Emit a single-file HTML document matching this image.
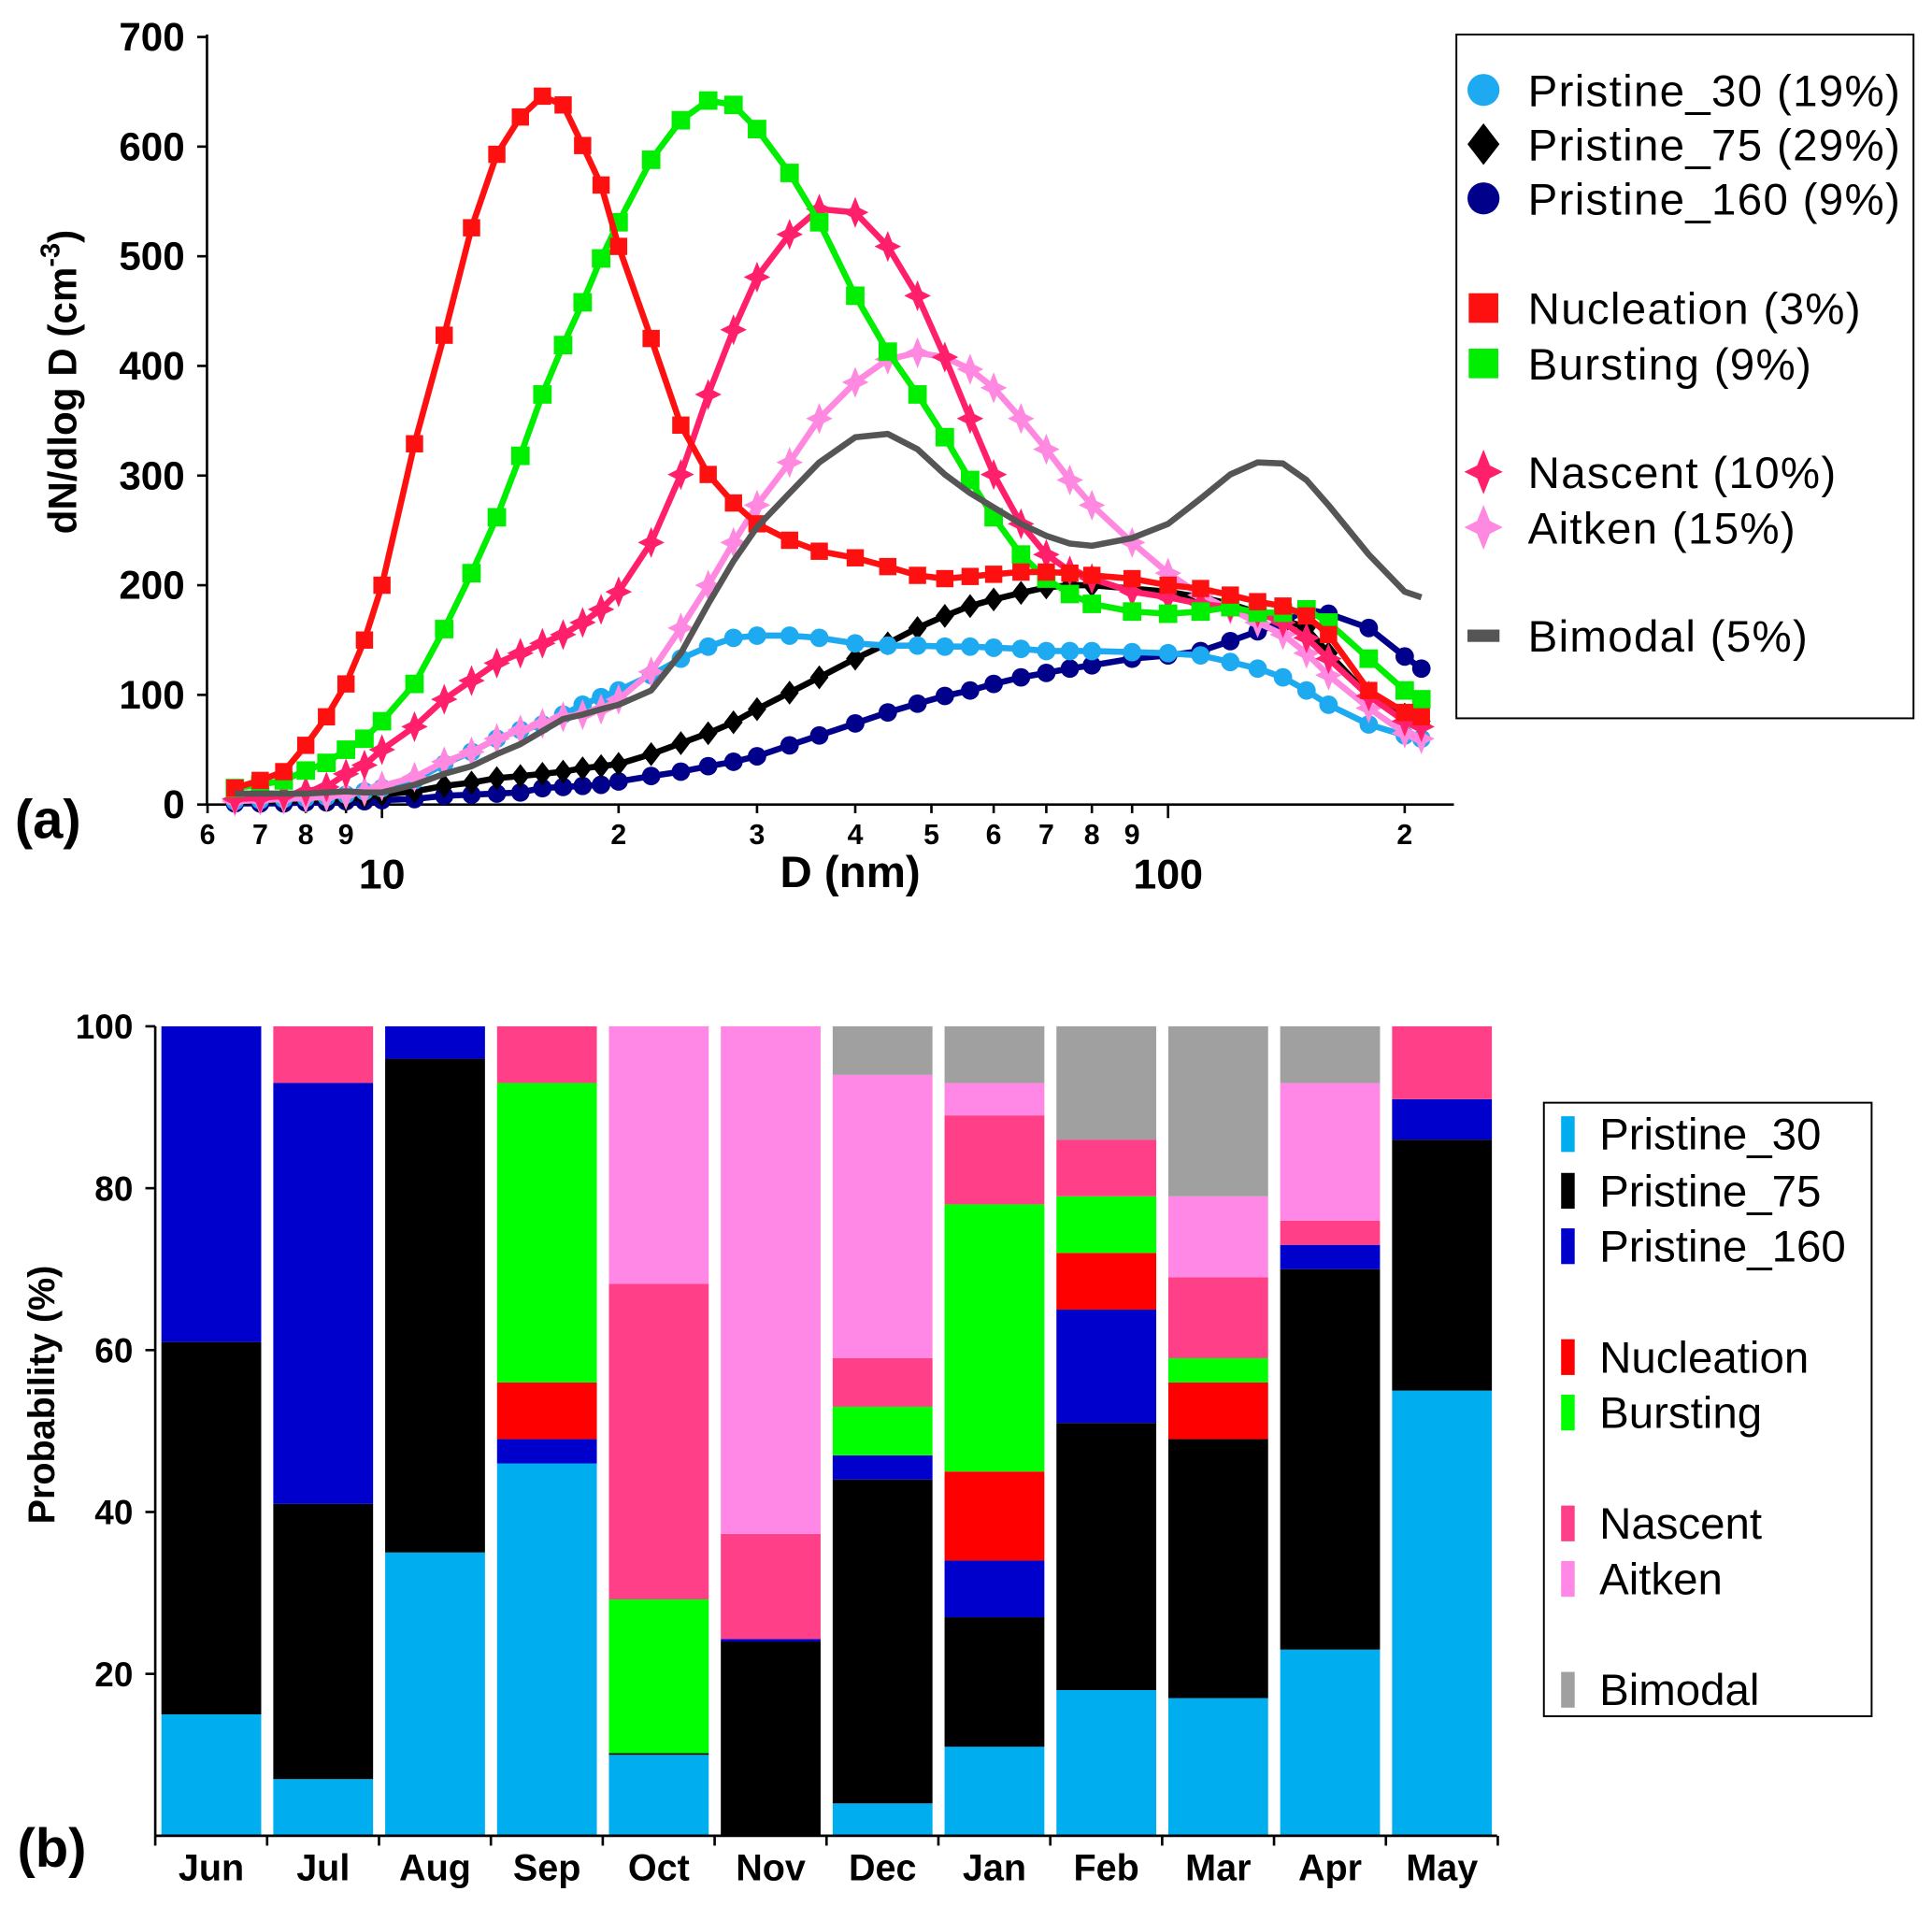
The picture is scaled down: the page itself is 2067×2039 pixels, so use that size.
<!DOCTYPE html>
<html><head><meta charset="utf-8"><style>
html,body{margin:0;padding:0;background:#fff}
svg{display:block;font-family:"Liberation Sans",Arial,sans-serif}
</style></head><body>
<svg id="fig" width="2067" height="2039" viewBox="0 0 1568 1547" preserveAspectRatio="none">
<rect width="1568" height="1547" fill="#fff"/>
<g id="topPanel"></g>
<g id="botPanel"></g>
</svg>
<script>
// ---------- Panel (a) data ----------
const diam = [6.5,7,7.5,8,8.5,9,9.5,10,11,12,13,14,15,16,17,18,19,20,22,24,26,28,30,33,36,40,44,48,52,56,60,65,70,75,80,90,100,110,120,130,140,150,160,180,200,210];
const nucleation = [15,22,30,54,80,110,150,200,329,428,526,593,627,646,638,601,565,509,425,346,301,275,256,241,231,225,217,209,206,208,210,212,212,211,209,206,200,197,191,185,181,172,155,104,84,80];
const bursting = [15,18,22,31,38,50,60,76,110,160,211,262,318,374,419,458,498,531,588,624,642,638,616,576,531,464,413,374,335,296,262,228,206,192,183,176,174,176,180,175,175,178,166,133,104,96];
const nascent = [5,6,8,12,16,28,36,50,71,96,113,129,138,147,155,166,178,194,239,301,374,433,481,520,543,540,509,464,408,352,301,256,228,213,206,194,189,183,180,175,166,152,133,99,76,71];
const aitken = [3,4,5,6,7,9,12,17,25,39,48,60,68,74,80,82,87,96,121,161,200,239,273,312,352,385,406,412,408,397,380,352,324,296,273,239,211,191,178,166,155,138,118,88,65,60];
const bimodal = [10,10,10,10,11,12,11,11,18,28,35,46,55,67,78,82,87,91,104,138,183,222,253,284,312,335,338,324,301,284,271,256,245,238,236,243,256,279,301,312,311,296,273,228,194,189];
const pristine30 = [3,4,5,6,7,9,12,15,22,37,48,60,68,73,82,91,98,104,118,133,144,152,154,154,152,147,145,145,144,144,143,142,140,140,140,139,138,136,130,124,116,104,91,73,63,60];
const pristine75 = [2,3,3,4,4,5,7,9,12,17,20,24,26,28,30,33,35,37,46,56,65,75,87,102,116,133,147,161,172,181,187,193,198,200,200,197,194,189,183,175,169,161,138,99,82,76];
const pristine160 = [1,1,1,2,2,3,3,4,5,8,9,10,11,15,16,17,18,21,26,30,35,39,44,54,63,74,84,92,99,104,110,116,120,124,127,133,136,140,149,158,166,178,174,161,135,124];
const yTicksA = [0,100,200,300,400,500,600,700];

// ---------- Panel (b) data ----------
const months = ["Jun","Jul","Aug","Sep","Oct","Nov","Dec","Jan","Feb","Mar","Apr","May"];
const bP30  = [15,7,35,46,10,0,4,11,18,17,23,55];
const bP75  = [46,34,61,0,0.2,24,40,16,33,32,47,31];
const bP160 = [39,52,4,3,0,0.3,3,7,14,0,3,5];
const bNuc  = [0,0,0,7,0,0,0,11,7,7,0,0];
const bBur  = [0,0,0,37,19,0,6,33,7,3,0,0];
const bNas  = [0,7,0,7,39,13,6,11,7,10,3,9];
const bAit  = [0,0,0,0,31.8,62.7,35,4,0,10,17,0];
const bBim  = [0,0,0,0,0,0,6,7,14,21,7,0];
const yTicksB = [20,40,60,80,100];

const NS="http://www.w3.org/2000/svg";
function mk(parent,tag,attrs,text){const e=document.createElementNS(NS,tag);for(const k in attrs)e.setAttribute(k,attrs[k]);if(text!==undefined)e.textContent=text;parent.appendChild(e);return e;}

// ---------- Panel (a) ----------
const gTop=document.getElementById('topPanel');
const xA=d=>310+638*Math.log10(d/10);
const yA=v=>653-v*0.89;
let ax=mk(gTop,'line',{x1:168,y1:653,x2:1180,y2:653,stroke:'#000','stroke-width':2});


ax=mk(gTop,'line',{x1:168,y1:28,x2:168,y2:653,stroke:'#000','stroke-width':2});


yTicksA.forEach(v=>{
  mk(gTop,'line',{x1:160,y1:yA(v),x2:168,y2:yA(v),stroke:'#000','stroke-width':2});
  const t=mk(gTop,'text',{x:150,y:yA(v)+11,'text-anchor':'end','font-size':32,'font-weight':'bold'},v);
  
  
});
const minor=[6,7,8,9,20,30,40,50,60,70,80,90,200];
minor.forEach(d=>{
  mk(gTop,'line',{x1:xA(d),y1:653,x2:xA(d),y2:660,stroke:'#000','stroke-width':2});
  const lab=d<10?d:(d<100?d/10:d/100);
  const t=mk(gTop,'text',{x:xA(d),y:685,'text-anchor':'middle','font-size':23,'font-weight':'bold'},lab);
  
  
});
[10,100].forEach(d=>{
  mk(gTop,'line',{x1:xA(d),y1:653,x2:xA(d),y2:664,stroke:'#000','stroke-width':2});
  const t=mk(gTop,'text',{x:xA(d),y:721,'text-anchor':'middle','font-size':34,'font-weight':'bold'},d);
  
  
});
let tt=mk(gTop,'text',{x:690,y:720,'text-anchor':'middle','font-size':36,'font-weight':'bold'},'D (nm)');


tt=mk(gTop,'text',{transform:'translate(62,310) rotate(-90)','text-anchor':'middle','font-size':32,'font-weight':'bold'});
tt.innerHTML='dN/dlog D (cm<tspan dy="-14" font-size="22">-3</tspan><tspan dy="14">)</tspan>';


tt=mk(gTop,'text',{x:12,y:680,'font-size':44,'font-weight':'bold'},'(a)');



function marker(g,shape,cx,cy,col,s){
  if(shape==='circle')mk(g,'circle',{cx,cy,r:s,fill:col});
  else if(shape==='square')mk(g,'rect',{x:cx-s,y:cy-s,width:2*s,height:2*s,fill:col});
  else if(shape==='diamond')mk(g,'polygon',{points:`${cx},${cy-s*1.3} ${cx+s},${cy} ${cx},${cy+s*1.3} ${cx-s},${cy}`,fill:col});
  else if(shape==='star')mk(g,'polygon',{points:`${cx},${cy-s*1.4} ${cx+s*0.4},${cy-s*0.4} ${cx+s*1.2},${cy} ${cx+s*0.4},${cy+s*0.4} ${cx},${cy+s*1.4} ${cx-s*0.4},${cy+s*0.4} ${cx-s*1.2},${cy} ${cx-s*0.4},${cy-s*0.4}`,fill:col});
}
const seriesA=[
  ['pristine160',pristine160,'#00008B','circle',7.5],
  ['pristine75',pristine75,'#000','diamond',7.5],
  ['pristine30',pristine30,'#1EAAF1','circle',7.5],
  ['aitken',aitken,'#FF88E0','star',9],
  ['nascent',nascent,'#FF1F6A','star',9],
  ['bursting',bursting,'#00EE00','square',7.5],
  ['nucleation',nucleation,'#FF1010','square',7],
  ['bimodal',bimodal,'#555','none',0]
];
seriesA.forEach(([name,vals,col,shape,s])=>{
  const g=mk(gTop,'g',{});
  
  
  const pts=vals.map((v,i)=>xA(diam[i]).toFixed(1)+','+yA(v).toFixed(1)).join(' ');
  mk(g,'polyline',{points:pts,fill:'none',stroke:col,'stroke-width':shape==='none'?5:5,'stroke-linejoin':'round'});
  if(shape!=='none')vals.forEach((v,i)=>marker(g,shape,xA(diam[i]),yA(v),col,s));
});
const lgA=mk(gTop,'g',{});


mk(lgA,'rect',{x:1182,y:28,width:371,height:555,fill:'#fff',stroke:'#000','stroke-width':1.5});
const legA=[['Pristine_30 (19%)','#1EAAF1','circle',73],['Pristine_75 (29%)','#000','diamond',117],['Pristine_160 (9%)','#00008B','circle',161],
['Nucleation (3%)','#FF1010','square',250],['Bursting (9%)','#00EE00','square',295],['Nascent (10%)','#FF1F6A','star',383],['Aitken (15%)','#FF88E0','star',428],['Bimodal (5%)','#555','line',516]];
legA.forEach(([lab,col,shape,y])=>{
  const g=mk(lgA,'g',{});
  
  
  if(shape==='line')mk(g,'rect',{x:1191,y:y-5,width:26,height:10,fill:col});
  else marker(g,shape,1204,y,col,shape==='square'?12:13);
  mk(g,'text',{x:1240,y:y+13,'font-size':36,'letter-spacing':1},lab);
});

// ---------- Panel (b) ----------
const gBot=document.getElementById('botPanel');
const y0=1490, kB=6.57;
const yB=v=>y0-v*kB;
const colsB=['#00AEEF','#000','#0000CC','#FF0000','#00FF00','#FF3F88','#FF88E6','#A0A0A0'];
const stacks=[bP30,bP75,bP160,bNuc,bBur,bNas,bAit,bBim];
const namesB=['pristine30','pristine75','pristine160','nucleation','bursting','nascent','aitken','bimodal'];
months.forEach((m,i)=>{
  const xl=131+i*90.8;
  let cum=0;
  stacks.forEach((arr,j)=>{
    const v=arr[i]; if(v<=0)return;
    const r=mk(gBot,'rect',{x:xl,y:yB(cum+v),width:81,height:v*kB,fill:colsB[j]});
    
    
    cum+=v;
  });
  const t=mk(gBot,'text',{x:xl+40.5,y:1526,'text-anchor':'middle','font-size':30,'font-weight':'bold'},m);
  
  
});
ax=mk(gBot,'line',{x1:126,y1:y0,x2:1215,y2:y0,stroke:'#000','stroke-width':2});


ax=mk(gBot,'line',{x1:126,y1:833,x2:126,y2:y0,stroke:'#000','stroke-width':2});


for(let i=0;i<=12;i++)mk(gBot,'line',{x1:126+i*90.8,y1:y0,x2:126+i*90.8,y2:y0+8,stroke:'#000','stroke-width':2});
yTicksB.forEach(v=>{
  mk(gBot,'line',{x1:118,y1:yB(v),x2:126,y2:yB(v),stroke:'#000','stroke-width':2});
  const t=mk(gBot,'text',{x:108,y:yB(v)+10,'text-anchor':'end','font-size':28,'font-weight':'bold'},v);
  
  
});
tt=mk(gBot,'text',{transform:'translate(44,1132) rotate(-90)','text-anchor':'middle','font-size':30,'font-weight':'bold'},'Probability (%)');


tt=mk(gBot,'text',{x:14,y:1515,'font-size':44,'font-weight':'bold'},'(b)');


const lgB=mk(gBot,'g',{});


mk(lgB,'rect',{x:1253,y:895,width:266,height:498,fill:'#fff',stroke:'#000','stroke-width':1.5});
const legB=[['Pristine_30',920],['Pristine_75',966],['Pristine_160',1011],['Nucleation',1101],['Bursting',1146],['Nascent',1236],['Aitken',1281],['Bimodal',1371]];
legB.forEach(([lab,y],j)=>{
  const g=mk(lgB,'g',{});
  
  
  mk(g,'rect',{x:1267,y:y-14,width:11,height:29,fill:colsB[j]});
  mk(g,'text',{x:1298,y:y+13,'font-size':36},lab);
});
</script>
</body></html>
